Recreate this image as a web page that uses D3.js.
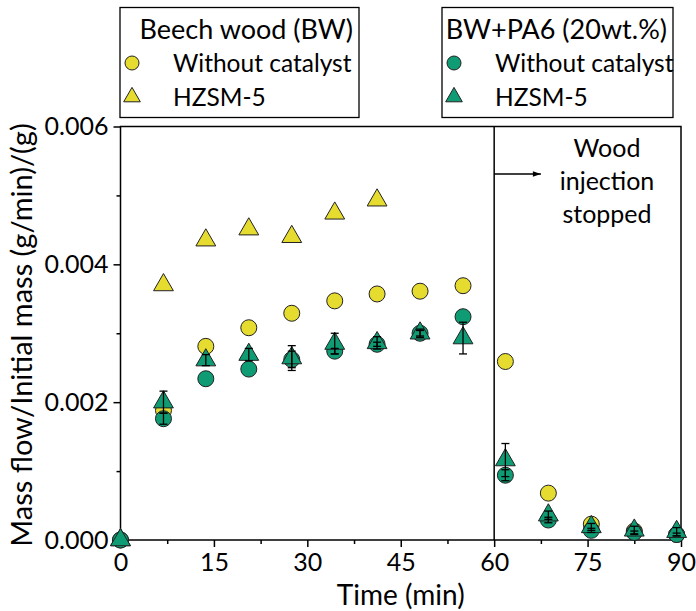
<!DOCTYPE html>
<html><head><meta charset="utf-8">
<script src="https://cdn.jsdelivr.net/npm/d3@7"></script>
<style>
html,body{margin:0;padding:0;background:#fff;}
svg{display:block;}
text{font-family:Lato,"Open Sans",sans-serif;fill:#000;}
</style></head>
<body><svg id="c" width="696" height="611"></svg>
<script>
// ---- data ----
const times = [0, 6.9, 13.7, 20.6, 27.5, 34.4, 41.2, 48.1, 55, 61.8, 68.7, 75.6, 82.5, 89.3];
const bwNoCat = [0, 0.00188, 0.00281, 0.00308, 0.00329, 0.00347, 0.00357, 0.00361, 0.00369, 0.00259, 0.00068, 0.00023, 0.00013, 0.00008];
const bwHZSM = [0, 0.00370, 0.00435, 0.00451, 0.00440, 0.00474, 0.00493];
const paNoCat = [0, 0.00176, 0.00234, 0.00248, 0.00262, 0.00274, 0.00284, 0.00300, 0.00324, 0.00094, 0.00029, 0.00014, 0.00011, 0.00008];
const paNoCatErr = [0, 0.00008, 0, 0, 0.00012, 0.00004, 0.00003, 0.00004, 0, 0.00008, 0.00004, 0.00003, 0.00002, 0.00002];
const paHZSM = [0, 0.00200, 0.00261, 0.00269, 0.00264, 0.00285, 0.00286, 0.00300, 0.00293, 0.00116, 0.00036, 0.00019, 0.00014, 0.00012];
const paHZSMErr = [0, 0.00016, 0.00008, 0.00009, 0.00018, 0.00015, 0.00009, 0.00006, 0.00023, 0.00024, 0.00006, 0.00005, 0.00006, 0.00006];
const xTicks = [0, 15, 30, 45, 60, 75, 90];
const yTicks = [0, 0.002, 0.004, 0.006];
const legend1 = {title: "Beech wood (BW)", items: ["Without catalyst", "HZSM-5"]};
const legend2 = {title: "BW+PA6 (20wt.%)", items: ["Without catalyst", "HZSM-5"]};
const annotation = ["Wood", "injection", "stopped"];
const stopTime = 60;

const YELLOW = "#e6dc30", GREEN = "#0f9b74";
const svg = d3.select("#c");
const L = 120.5, R = 681, T = 126.5, B = 540;
const x = d3.scaleLinear().domain([0, 90]).range([L, R]);
const y = d3.scaleLinear().domain([0, 0.006]).range([B, T]);

// frame
svg.append("rect").attr("x", L).attr("y", T).attr("width", R - L).attr("height", B - T)
  .attr("fill", "none").attr("stroke", "#000").attr("stroke-width", 1.5);

// axes
const xAxis = svg.append("g").attr("transform", `translate(0,${B})`)
  .call(d3.axisBottom(x).tickValues(xTicks).tickSize(7).tickPadding(3).tickFormat(d3.format("d")));
svg.append("g").attr("transform", `translate(0,${B})`)
  .call(d3.axisBottom(x).tickValues(d3.range(7.5, 90, 15)).tickSize(4).tickFormat(""));
const yAxis = svg.append("g").attr("transform", `translate(${L},0)`)
  .call(d3.axisLeft(y).tickValues(yTicks).tickSize(7).tickPadding(5).tickFormat(d3.format(".3f")));
svg.append("g").attr("transform", `translate(${L},0)`)
  .call(d3.axisLeft(y).tickValues([0.001, 0.003, 0.005]).tickSize(4).tickFormat(""));
svg.selectAll(".domain").remove();
svg.selectAll(".tick line").attr("stroke", "#000").attr("stroke-width", 1.5);
svg.selectAll(".tick text").attr("font-size", 25).attr("font-family", "Lato").attr("fill", "#000");
xAxis.selectAll(".tick text").attr("dy", "0.85em");

// axis titles
svg.append("text").attr("x", (L + R) / 2).attr("y", 605).attr("text-anchor", "middle")
  .attr("font-size", 28).text("Time (min)");
svg.append("text").attr("transform", `translate(32,335) rotate(-90)`)
  .attr("text-anchor", "middle").attr("font-size", 29).text("Mass flow/Initial mass (g/min)/(g)");

// stop line + arrow
svg.append("defs").append("marker").attr("id", "ah").attr("viewBox", "0 0 10 10")
  .attr("refX", 10).attr("refY", 5).attr("markerWidth", 10).attr("markerHeight", 8)
  .attr("markerUnits", "userSpaceOnUse").attr("orient", "auto")
  .append("path").attr("d", "M0,1.5L10,5L0,8.5Z").attr("fill", "#000");
svg.append("line").attr("x1", x(stopTime)).attr("x2", x(stopTime)).attr("y1", T).attr("y2", B)
  .attr("stroke", "#000").attr("stroke-width", 1.5);
svg.append("line").attr("x1", x(stopTime)).attr("x2", x(67.5)).attr("y1", 174).attr("y2", 174)
  .attr("stroke", "#000").attr("stroke-width", 1.5).attr("marker-end", "url(#ah)");
svg.append("g").selectAll("text").data(annotation).join("text")
  .attr("x", 607).attr("y", (d, i) => 157 + i * 33).attr("text-anchor", "middle")
  .attr("font-size", 25).text(d => d);

// markers
const circ = d3.symbol().type(d3.symbolCircle).size(Math.PI * 8 * 8);
const tri = d3.symbol().type(d3.symbolTriangle).size(170);
function pts(vals, sym, color) {
  svg.append("g").selectAll("path").data(vals.map((v, i) => [times[i], v])).join("path")
    .attr("d", sym).attr("transform", d => `translate(${x(d[0])},${y(d[1])})`)
    .attr("fill", color).attr("stroke", "#222").attr("stroke-width", 1);
}
pts(bwNoCat, circ, YELLOW);
pts(bwHZSM, tri, YELLOW);
pts(paNoCat, circ, GREEN);
pts(paHZSM, tri, GREEN);

function errs(vals, e) {
  const g = svg.append("g").attr("stroke", "#000").attr("stroke-width", 1.3);
  const d = vals.map((v, i) => ({t: times[i], v, e: e[i]})).filter(o => o.e > 0);
  g.selectAll(".v").data(d).join("line").attr("x1", o => x(o.t)).attr("x2", o => x(o.t))
    .attr("y1", o => y(o.v - o.e)).attr("y2", o => y(o.v + o.e));
  g.selectAll(".a").data(d).join("line").attr("x1", o => x(o.t) - 4).attr("x2", o => x(o.t) + 4)
    .attr("y1", o => y(o.v + o.e)).attr("y2", o => y(o.v + o.e));
  g.selectAll(".b").data(d).join("line").attr("x1", o => x(o.t) - 4).attr("x2", o => x(o.t) + 4)
    .attr("y1", o => y(o.v - o.e)).attr("y2", o => y(o.v - o.e));
}
errs(paNoCat, paNoCatErr);
errs(paHZSM, paHZSMErr);

// legends
function legend(cfg, x0, w, color) {
  const g = svg.append("g");
  g.append("rect").attr("x", x0).attr("y", 7.5).attr("width", w).attr("height", 110)
    .attr("fill", "#fff").attr("stroke", "#000").attr("stroke-width", 1.3);
  g.append("text").attr("x", x0 + w - 6).attr("y", 39).attr("text-anchor", "end")
    .attr("font-size", 27).text(cfg.title);
  const syms = [d3.symbol().type(d3.symbolCircle).size(Math.PI * 7 * 7), d3.symbol().type(d3.symbolTriangle).size(120)];
  cfg.items.forEach((t, i) => {
    g.append("path").attr("d", syms[i]).attr("transform", `translate(${x0 + 12},${63 + i * 34})`)
      .attr("fill", color).attr("stroke", "#222").attr("stroke-width", 1);
    g.append("text").attr("x", x0 + 53).attr("y", 72 + i * 34).attr("font-size", 24.5).text(t);
  });
}
legend(legend1, 120, 239, YELLOW);
legend(legend2, 442, 231, GREEN);
</script></body></html>
